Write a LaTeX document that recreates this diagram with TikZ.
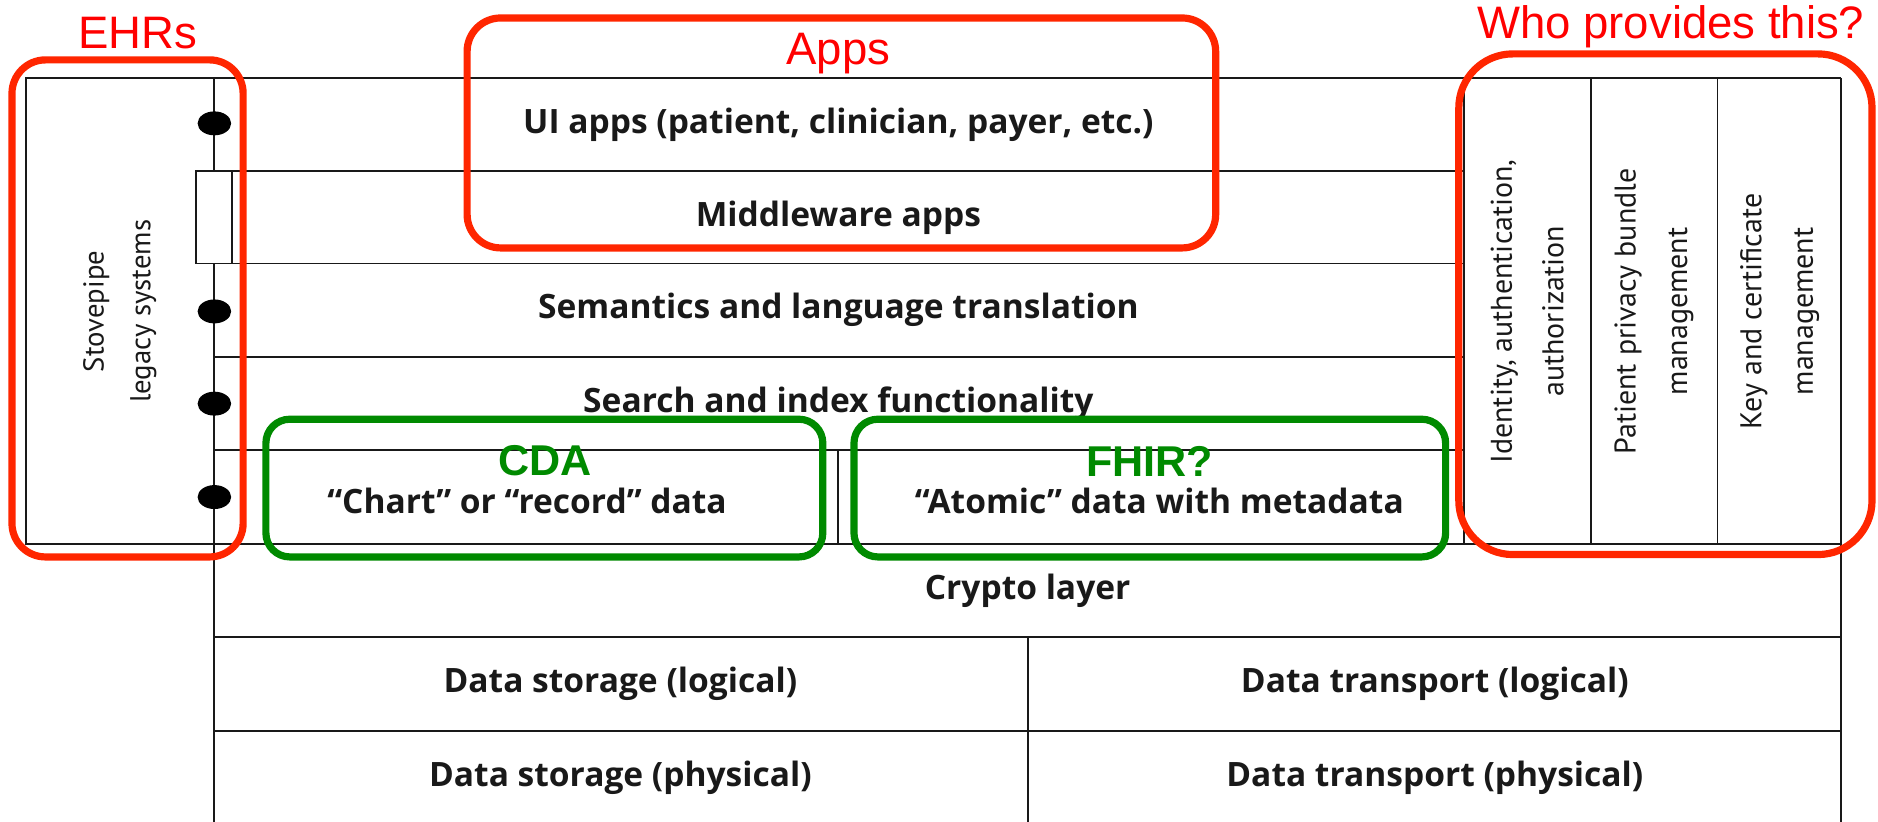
\documentclass[tikz,border=0pt]{standalone}
\usepackage{fontspec}
\setmainfont{PT Sans}
\newfontfamily\cellfont{Open Sans}
\newfontfamily\lblfont{Liberation Sans}
\definecolor{boxred}{RGB}{255,38,0}
\definecolor{lblred}{RGB}{255,0,0}
\definecolor{boxgreen}{RGB}{0,138,0}
\definecolor{ink}{RGB}{25,25,25}
\begin{document}
\begin{tikzpicture}[x=1pt,y=-1pt,
  grid/.style={line width=1.6pt, draw=ink},
  cell/.style={inner sep=0pt, text=ink, font=\cellfont\bfseries\fontsize{28}{32}\selectfont},
  vtext/.style={inner sep=0pt, rotate=90, align=center, text=ink, font=\fontsize{24}{39}\selectfont},
  vtextw/.style={vtext, font=\fontsize{25}{43}\selectfont},
  redbox/.style={draw=boxred, line width=6pt, rounded corners=28pt},
  greenbox/.style={draw=boxgreen, line width=6pt, rounded corners=20pt},
  redlbl/.style={inner sep=0pt, text=lblred, font=\lblfont\fontsize{38}{40}\selectfont},
  greenlbl/.style={inner sep=0pt, text=boxgreen, font=\lblfont\bfseries\fontsize{36}{38}\selectfont},
  dotmark/.style={fill=black}]
\useasboundingbox (0,0) rectangle (1568,686);
\fill[white] (0,0) rectangle (1568,686);
% grid
\draw[grid] (22,65) rectangle (179,454);
\draw[grid] (179,65) -- (1537,65);
\draw[grid] (179,65) -- (179,686);
\draw[grid] (1537,65) -- (1537,686);
\foreach \y in {143,220,298,376} \draw[grid] (179,\y) -- (1222,\y);
\draw[grid] (22,454) -- (1537,454);
\draw[grid] (179,532) -- (1537,532);
\draw[grid] (179,610) -- (1537,610);
\foreach \x in {1222,1328,1434} \draw[grid] (\x,65) -- (\x,454);
\draw[grid] (700,376) -- (700,454);
\draw[grid] (858,532) -- (858,686);
\draw[grid, fill=white] (164,143) rectangle (194,220);
% dots
\foreach \y in {103,260,337,415} \fill[dotmark] (179,\y) ellipse [x radius=14, y radius=10];
% texts
\node[cell] (ui) at (700,104) {UI apps (patient, clinician, payer, etc.)};
\node[cell] (mw) at (700,182) {Middleware apps};
\node[cell] (sem) at (700,259) {Semantics and language translation};
\node[cell] (srch) at (700,337) {Search and index functionality};
\node[cell] (chart) at (440,418) {“Chart” or “record” data};
\node[cell] (atom) at (968,418) {“Atomic” data with metadata};
\node[cell] (crypto) at (858,493) {Crypto layer};
\node[cell] (dsl) at (518,571) {Data storage (logical)};
\node[cell] (dtl) at (1198,571) {Data transport (logical)};
\node[cell] (dsp) at (518,649) {Data storage (physical)};
\node[cell] (dtp) at (1198,649) {Data transport (physical)};
\node[vtext] (stove) at (100,260) {Stovepipe\\legacy systems};
\node[vtextw] (ident) at (1275,260) {Identity, authentication,\\authorization};
\node[vtextw] (priv) at (1381,260) {Patient privacy bundle\\management};
\node[vtextw] (keyc) at (1486,260) {Key and certificate\\management};
% highlight boxes
\draw[redbox] (10,50) rectangle (203,465);
\draw[redbox] (390,15) rectangle (1015,207);
\draw[redbox, rounded corners=45pt] (1218,45) rectangle (1563,463);
\draw[greenbox] (222,350) rectangle (687,465);
\draw[greenbox] (713,350) rectangle (1207,465);
% labels
\node[redlbl] (ehr) at (115,28) {EHRs};
\node[redlbl] (apps) at (700,45) {Apps};
\node[redlbl] (who) at (1395,22) {Who provides this?};
\node[greenlbl] (cda) at (455,385) {CDA};
\node[greenlbl] (fhir) at (960,385) {FHIR?};
\end{tikzpicture}
\end{document}
